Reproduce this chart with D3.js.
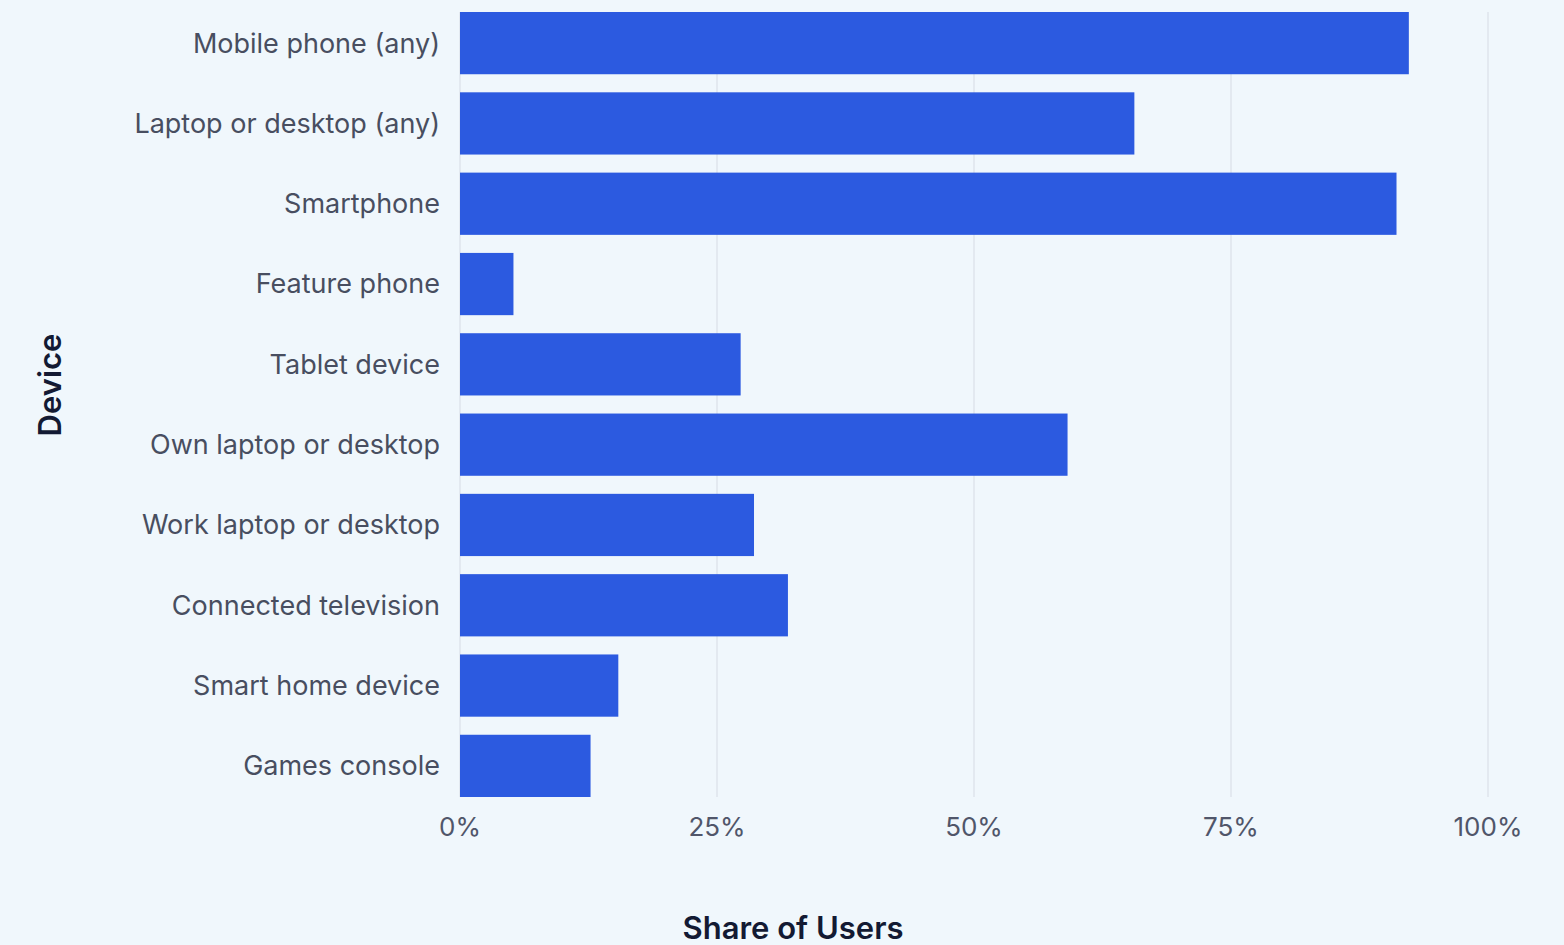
<!DOCTYPE html>
<meta charset="utf-8">
<style>
body { margin: 0; background: #f0f7fc; }
svg { display: block; background: #f0f7fc; }
.tick-label { font: 26px Inter, sans-serif; fill: #50566a; }
.cat-label { font: 27px Inter, sans-serif; fill: #484e60; }
.axis-title { font: 600 31px Inter, sans-serif; fill: #131a33; }
</style>
<svg width="1564" height="945"></svg>
<script src="https://d3js.org/d3.v7.min.js"></script>
<script>

var devices = ["Mobile phone (any)", "Laptop or desktop (any)", "Smartphone", "Feature phone",
  "Tablet device", "Own laptop or desktop", "Work laptop or desktop", "Connected television",
  "Smart home device", "Games console"];
var shares = [92.3, 65.6, 91.1, 5.2, 27.3, 59.1, 28.6, 31.9, 15.4, 12.7];
var tickValues = [0, 25, 50, 75, 100];

var svg = d3.select("svg"),
    margin = {top: 12, right: 76, bottom: 148, left: 460},
    width = 1564 - margin.left - margin.right,
    height = 945 - margin.top - margin.bottom;

var x = d3.scaleLinear().domain([0, 100]).range([0, width]);
var y = d3.scaleBand().domain(devices).range([0, height]).paddingInner(0.225).paddingOuter(0);

var g = svg.append("g")
    .attr("transform", "translate(" + margin.left + "," + margin.top + ")");

// gridlines
g.selectAll(".grid").data(tickValues).enter().append("line")
    .attr("x1", function(d) { return x(d); })
    .attr("x2", function(d) { return x(d); })
    .attr("y1", 0)
    .attr("y2", height)
    .attr("stroke", "#dfe5ec")
    .attr("stroke-width", 1.5);

g.selectAll(".bar").data(shares).enter().append("rect")
    .attr("x", x(0))
    .attr("y", function(d, i) { return y(devices[i]); })
    .attr("width", function(d) { return x(d) - x(0); })
    .attr("height", y.bandwidth())
    .attr("fill", "#2c5ae0");

g.selectAll(".cat-label").data(devices).enter().append("text")
    .attr("class", "cat-label")
    .attr("x", -20)
    .attr("y", function(d) { return y(d) + y.bandwidth() / 2; })
    .attr("dy", "0.35em")
    .attr("text-anchor", "end")
    .text(function(d) { return d; });

g.selectAll(".tick-label").data(tickValues).enter().append("text")
    .attr("class", "tick-label")
    .attr("x", function(d) { return x(d); })
    .attr("y", height + 30)
    .attr("dy", "0.35em")
    .attr("text-anchor", "middle")
    .text(function(d) { return d + "%"; });

svg.append("text")
    .attr("class", "axis-title")
    .attr("x", 793)
    .attr("y", 928)
    .attr("dy", "0.35em")
    .attr("text-anchor", "middle")
    .text("Share of Users");

svg.append("text")
    .attr("class", "axis-title")
    .attr("transform", "translate(50,385) rotate(-90)")
    .attr("dy", "0.35em")
    .attr("text-anchor", "middle")
    .text("Device");

</script>
